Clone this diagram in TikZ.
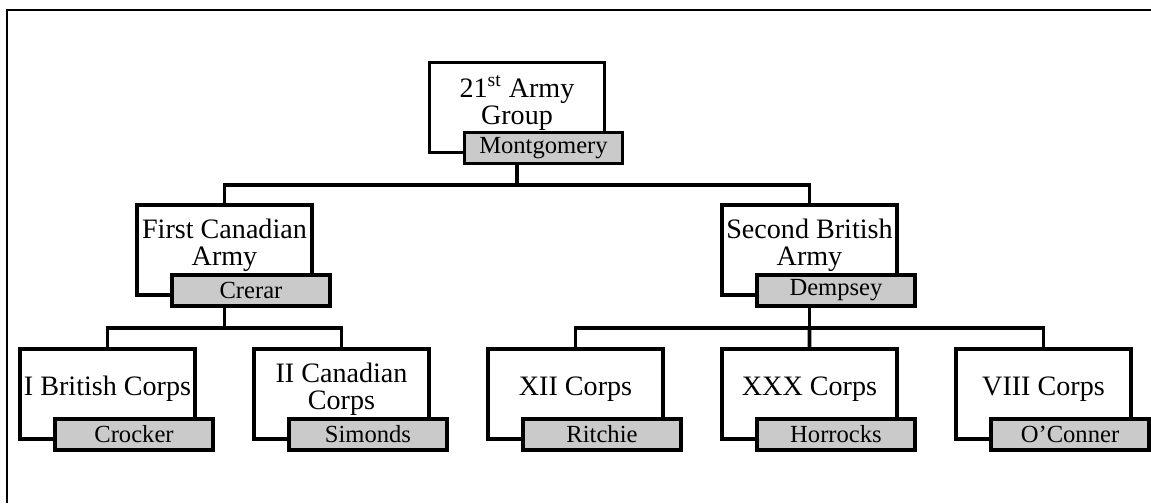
\documentclass[tikz,border=0pt]{standalone}
\usepackage{fontspec}
\setmainfont{Liberation Serif}
\usepackage{xcolor}
\usepackage{tikz}
\usetikzlibrary{positioning}
\definecolor{namegray}{RGB}{202,202,202}

\begin{document}
\begin{tikzpicture}[
  node distance=11.8mm,
  unit/.style={draw, line width=2pt, fill=white, minimum width=35mm,
               minimum height=18mm, inner sep=0pt, outer sep=0pt},
  ttl/.style ={align=center, inner sep=0pt,
               font=\fontsize{16}{15.4}\selectfont},
  who/.style ={draw, line width=2pt, fill=namegray, minimum width=31.6mm,
               minimum height=6.2mm, inner sep=0pt, outer sep=0pt,
               font=\fontsize{14}{16}\selectfont},
  link/.style={line width=2pt}]
\useasboundingbox (0,0) rectangle (23.02,-10.06);
\draw[line width=1pt] (0.14,-10.06) -- (0.14,-0.2) -- (23.02,-0.2);
\coordinate (bus0) at (0,-3.7);
\coordinate (bus1) at (0,-6.56);
% corps row
\node[unit] (ibc) at (2.15,-7.88) {};
\node[unit, right=of ibc] (icc)  {};
\node[unit, right=of icc] (xii)  {};
\node[unit, right=of xii] (xxx)  {};
\node[unit, right=of xxx] (viii) {};
% armies and group
\node[unit] (fca)  at (4.49,-5.0) {};
\node[unit] (sba)  at (16.19,-5.0) {};
\node[unit] (ag21) at (10.34,-2.15) {};
% titles
\node[ttl] (ag21T) at ([yshift=1mm]ag21.center) {21\textsuperscript{st} Army\\Group};
\node[ttl] (fcaT)  at ([yshift=1mm]fca.center)  {First Canadian\\Army};
\node[ttl] (sbaT)  at ([yshift=1mm]sba.center)  {Second British\\Army};
\node[ttl] (ibcT)  at ([yshift=1mm]ibc.center)  {I British Corps};
\node[ttl] (iccT)  at ([yshift=1mm]icc.center)  {II Canadian\\Corps};
\node[ttl] (xiiT)  at ([yshift=1mm]xii.center)  {XII Corps};
\node[ttl] (xxxT)  at ([yshift=1mm]xxx.center)  {XXX Corps};
\node[ttl] (viiiT) at ([yshift=1mm]viii.center) {VIII Corps};
% commanders
\node[who] (ag21N) at ([xshift=5.3mm,yshift=-8.1mm]ag21.center) {Montgomery};
\node[who] (fcaN)  at ([xshift=5.3mm,yshift=-8.1mm]fca.center)  {Crerar};
\node[who] (sbaN)  at ([xshift=5.3mm,yshift=-8.1mm]sba.center)  {Dempsey};
\node[who] (ibcN)  at ([xshift=5.3mm,yshift=-8.1mm]ibc.center)  {Crocker};
\node[who] (iccN)  at ([xshift=5.3mm,yshift=-8.1mm]icc.center)  {Simonds};
\node[who] (xiiN)  at ([xshift=5.3mm,yshift=-8.1mm]xii.center)  {Ritchie};
\node[who] (xxxN)  at ([xshift=5.3mm,yshift=-8.1mm]xxx.center)  {Horrocks};
\node[who] (viiiN) at ([xshift=5.3mm,yshift=-8.1mm]viii.center) {O’Conner};
% links
\draw[link] (ag21 |- ag21N.south) -- (ag21 |- bus0) -| (fca.north);
\draw[link] (ag21 |- bus0) -| (sba.north);
\draw[link] (fca |- fcaN.south) -- (fca |- bus1) -| (ibc.north);
\draw[link] (fca |- bus1) -| (icc.north);
\draw[link] (sba |- sbaN.south) -- (sba |- bus1) -| (xii.north);
\draw[link] (sba |- bus1) -| (viii.north);
\draw[link] (sba |- bus1) -- (xxx.north);
\end{tikzpicture}
\end{document}
